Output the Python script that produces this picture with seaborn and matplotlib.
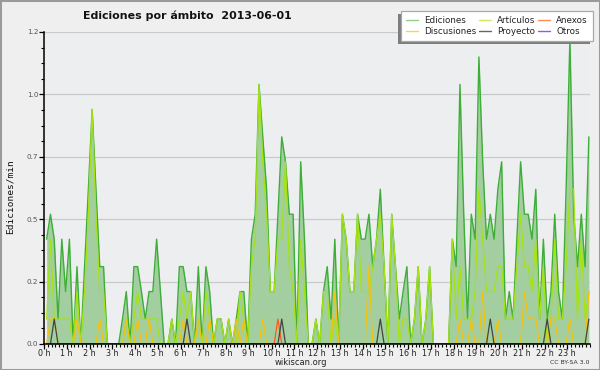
import numpy as np
import pandas as pd
import matplotlib
matplotlib.use("Agg")
import matplotlib.pyplot as plt
import seaborn as sns
from matplotlib.lines import Line2D
from matplotlib.patches import Rectangle
from matplotlib.transforms import IdentityTransform
from matplotlib.ticker import FixedLocator, MultipleLocator

# ---------------- data (edits per minute, one value per 10-minute slot) -------------
title = "Ediciones por ámbito  2013-06-01"
hour_labels = [f"{h} h" for h in range(24)]
y_ticks = [0.0, 0.25, 0.5, 0.75, 1.0, 1.25]
y_tick_labels = ["0.0", "0.2", "0.5", "0.7", "1.0", "1.2"]

ediciones = [
    0.42, 0.52, 0.42, 0.10, 0.42, 0.21, 0.42, 0.00, 0.31, 0.00,
    0.31, 0.62, 0.94, 0.62, 0.31, 0.31, 0.00, 0.00, 0.00, 0.00,
    0.10, 0.21, 0.00, 0.31, 0.31, 0.21, 0.10, 0.21, 0.21, 0.42,
    0.21, 0.00, 0.00, 0.10, 0.00, 0.31, 0.31, 0.21, 0.21, 0.00,
    0.31, 0.00, 0.31, 0.21, 0.00, 0.10, 0.10, 0.00, 0.10, 0.00,
    0.10, 0.21, 0.21, 0.00, 0.42, 0.52, 1.04, 0.83, 0.62, 0.21,
    0.21, 0.52, 0.83, 0.73, 0.52, 0.52, 0.00, 0.73, 0.42, 0.00,
    0.00, 0.10, 0.00, 0.21, 0.31, 0.10, 0.42, 0.00, 0.52, 0.42,
    0.21, 0.21, 0.52, 0.42, 0.42, 0.52, 0.31, 0.42, 0.62, 0.31,
    0.00, 0.52, 0.31, 0.10, 0.21, 0.31, 0.00, 0.10, 0.31, 0.00,
    0.10, 0.31, 0.00, 0.00, 0.00, 0.00, 0.00, 0.42, 0.31, 1.04,
    0.52, 0.10, 0.52, 0.42, 1.15, 0.73, 0.42, 0.52, 0.42, 0.62,
    0.73, 0.10, 0.21, 0.10, 0.42, 0.73, 0.52, 0.52, 0.42, 0.62,
    0.10, 0.42, 0.10, 0.21, 0.52, 0.21, 0.10, 0.62, 1.22, 0.52,
    0.31, 0.52, 0.31, 0.83,
]

articulos = [
    0.10, 0.42, 0.10, 0.10, 0.10, 0.10, 0.10, 0.00, 0.21, 0.00,
    0.21, 0.52, 0.94, 0.52, 0.21, 0.21, 0.00, 0.00, 0.00, 0.00,
    0.00, 0.10, 0.00, 0.10, 0.21, 0.10, 0.10, 0.10, 0.10, 0.10,
    0.00, 0.00, 0.00, 0.10, 0.00, 0.10, 0.21, 0.10, 0.21, 0.00,
    0.10, 0.00, 0.21, 0.10, 0.00, 0.10, 0.10, 0.00, 0.10, 0.00,
    0.00, 0.21, 0.10, 0.00, 0.31, 0.42, 1.04, 0.73, 0.52, 0.21,
    0.21, 0.42, 0.42, 0.73, 0.31, 0.21, 0.00, 0.42, 0.21, 0.00,
    0.00, 0.10, 0.00, 0.21, 0.21, 0.00, 0.10, 0.00, 0.52, 0.42,
    0.21, 0.21, 0.52, 0.21, 0.21, 0.21, 0.31, 0.42, 0.52, 0.31,
    0.00, 0.52, 0.31, 0.00, 0.10, 0.10, 0.00, 0.10, 0.31, 0.00,
    0.10, 0.31, 0.00, 0.00, 0.00, 0.00, 0.00, 0.42, 0.10, 0.31,
    0.10, 0.10, 0.10, 0.21, 0.62, 0.42, 0.21, 0.21, 0.21, 0.31,
    0.31, 0.10, 0.10, 0.10, 0.31, 0.52, 0.31, 0.31, 0.21, 0.42,
    0.10, 0.31, 0.00, 0.10, 0.42, 0.10, 0.10, 0.31, 0.62, 0.62,
    0.10, 0.42, 0.10, 0.21,
]

discusiones = [
    0.00, 0.10, 0.10, 0.00, 0.00, 0.00, 0.00, 0.00, 0.10, 0.00,
    0.00, 0.00, 0.00, 0.00, 0.10, 0.00, 0.00, 0.00, 0.00, 0.00,
    0.00, 0.10, 0.00, 0.00, 0.10, 0.00, 0.00, 0.10, 0.00, 0.00,
    0.00, 0.00, 0.00, 0.00, 0.00, 0.00, 0.10, 0.00, 0.00, 0.00,
    0.10, 0.00, 0.00, 0.10, 0.00, 0.00, 0.00, 0.00, 0.00, 0.00,
    0.10, 0.00, 0.10, 0.00, 0.00, 0.00, 0.00, 0.10, 0.00, 0.00,
    0.00, 0.00, 0.00, 0.00, 0.00, 0.00, 0.00, 0.00, 0.00, 0.00,
    0.00, 0.00, 0.00, 0.00, 0.00, 0.00, 0.21, 0.00, 0.00, 0.00,
    0.00, 0.00, 0.00, 0.00, 0.00, 0.31, 0.00, 0.00, 0.00, 0.00,
    0.00, 0.00, 0.00, 0.00, 0.00, 0.00, 0.00, 0.00, 0.00, 0.00,
    0.00, 0.00, 0.00, 0.00, 0.00, 0.00, 0.00, 0.00, 0.00, 0.10,
    0.00, 0.00, 0.10, 0.00, 0.00, 0.21, 0.00, 0.00, 0.00, 0.10,
    0.00, 0.00, 0.00, 0.00, 0.00, 0.00, 0.21, 0.10, 0.10, 0.10,
    0.00, 0.00, 0.00, 0.10, 0.10, 0.00, 0.00, 0.00, 0.10, 0.00,
    0.00, 0.00, 0.00, 0.21,
]

proyecto = [
    0.00, 0.00, 0.10, 0.00, 0.00, 0.00, 0.00, 0.00, 0.00, 0.00,
    0.00, 0.00, 0.00, 0.00, 0.00, 0.00, 0.00, 0.00, 0.00, 0.00,
    0.00, 0.00, 0.00, 0.00, 0.00, 0.00, 0.00, 0.00, 0.00, 0.00,
    0.00, 0.00, 0.00, 0.00, 0.00, 0.00, 0.00, 0.10, 0.00, 0.00,
    0.00, 0.00, 0.00, 0.00, 0.00, 0.00, 0.00, 0.00, 0.00, 0.00,
    0.00, 0.00, 0.00, 0.00, 0.00, 0.00, 0.00, 0.00, 0.00, 0.00,
    0.00, 0.00, 0.10, 0.00, 0.00, 0.00, 0.00, 0.00, 0.00, 0.00,
    0.00, 0.00, 0.00, 0.00, 0.00, 0.00, 0.00, 0.00, 0.00, 0.00,
    0.00, 0.00, 0.00, 0.00, 0.00, 0.00, 0.00, 0.00, 0.10, 0.00,
    0.00, 0.00, 0.00, 0.00, 0.00, 0.00, 0.00, 0.00, 0.00, 0.00,
    0.00, 0.00, 0.00, 0.00, 0.00, 0.00, 0.00, 0.00, 0.00, 0.00,
    0.00, 0.00, 0.00, 0.00, 0.00, 0.00, 0.00, 0.10, 0.00, 0.00,
    0.00, 0.00, 0.00, 0.00, 0.00, 0.00, 0.00, 0.00, 0.00, 0.00,
    0.00, 0.00, 0.10, 0.00, 0.00, 0.00, 0.00, 0.00, 0.00, 0.00,
    0.00, 0.00, 0.00, 0.10,
]

anexos = [
    0.00, 0.00, 0.00, 0.00, 0.00, 0.00, 0.00, 0.00, 0.00, 0.00,
    0.00, 0.00, 0.00, 0.00, 0.00, 0.00, 0.00, 0.00, 0.00, 0.00,
    0.00, 0.00, 0.00, 0.00, 0.00, 0.00, 0.00, 0.00, 0.00, 0.00,
    0.00, 0.00, 0.00, 0.00, 0.00, 0.00, 0.00, 0.00, 0.00, 0.00,
    0.00, 0.00, 0.00, 0.00, 0.00, 0.00, 0.00, 0.00, 0.00, 0.00,
    0.00, 0.00, 0.00, 0.00, 0.00, 0.00, 0.00, 0.00, 0.00, 0.00,
    0.00, 0.10, 0.00, 0.00, 0.00, 0.00, 0.00, 0.00, 0.00, 0.00,
    0.00, 0.00, 0.00, 0.00, 0.00, 0.00, 0.00, 0.00, 0.00, 0.00,
    0.00, 0.00, 0.00, 0.00, 0.00, 0.00, 0.00, 0.00, 0.00, 0.00,
    0.00, 0.00, 0.00, 0.00, 0.00, 0.00, 0.00, 0.00, 0.00, 0.00,
    0.00, 0.00, 0.00, 0.00, 0.00, 0.00, 0.00, 0.00, 0.00, 0.00,
    0.00, 0.00, 0.00, 0.00, 0.00, 0.00, 0.00, 0.00, 0.00, 0.00,
    0.00, 0.00, 0.00, 0.00, 0.00, 0.00, 0.00, 0.00, 0.00, 0.00,
    0.00, 0.00, 0.00, 0.00, 0.00, 0.00, 0.00, 0.00, 0.00, 0.00,
    0.00, 0.00, 0.00, 0.00,
]

otros = [
    0.00, 0.00, 0.00, 0.00, 0.00, 0.00, 0.00, 0.00, 0.00, 0.00,
    0.00, 0.00, 0.00, 0.00, 0.00, 0.00, 0.00, 0.00, 0.00, 0.00,
    0.00, 0.00, 0.00, 0.00, 0.00, 0.00, 0.00, 0.00, 0.00, 0.00,
    0.00, 0.00, 0.00, 0.00, 0.00, 0.00, 0.00, 0.00, 0.00, 0.00,
    0.00, 0.00, 0.00, 0.00, 0.00, 0.00, 0.00, 0.00, 0.00, 0.00,
    0.00, 0.00, 0.00, 0.00, 0.00, 0.00, 0.00, 0.00, 0.00, 0.00,
    0.00, 0.00, 0.00, 0.00, 0.00, 0.00, 0.00, 0.00, 0.00, 0.00,
    0.00, 0.00, 0.00, 0.00, 0.00, 0.00, 0.00, 0.00, 0.00, 0.00,
    0.00, 0.00, 0.00, 0.00, 0.00, 0.00, 0.00, 0.00, 0.00, 0.00,
    0.00, 0.00, 0.00, 0.00, 0.00, 0.00, 0.00, 0.00, 0.00, 0.00,
    0.00, 0.00, 0.00, 0.00, 0.00, 0.00, 0.00, 0.00, 0.00, 0.00,
    0.00, 0.00, 0.00, 0.00, 0.00, 0.00, 0.00, 0.00, 0.00, 0.00,
    0.00, 0.00, 0.00, 0.00, 0.00, 0.00, 0.00, 0.00, 0.00, 0.00,
    0.00, 0.00, 0.00, 0.00, 0.00, 0.00, 0.00, 0.00, 0.00, 0.00,
    0.00, 0.00, 0.00, 0.00,
]

series_names = ["Ediciones", "Artículos", "Discusiones", "Anexos", "Proyecto", "Otros"]
legend_order = ["Ediciones", "Discusiones", "Artículos", "Proyecto", "Anexos", "Otros"]

# ---------------- styling ----------------
line_colors = {
    "Ediciones": "#3dae38",
    "Artículos": "#a6e312",
    "Discusiones": "#f4c20d",
    "Anexos": "#ff5a1a",
    "Proyecto": "#444444",
    "Otros": "#9a45ee",
}
legend_colors = {
    "Ediciones": "#8fd08a",
    "Artículos": "#cdeb5a",
    "Discusiones": "#ffd24a",
    "Anexos": "#ff8a5c",
    "Proyecto": "#666666",
    "Otros": "#9a55ee",
}
line_widths = {"Ediciones": 1.0, "Artículos": 0.9, "Discusiones": 0.9,
               "Anexos": 0.9, "Proyecto": 0.9, "Otros": 0.9}
fill_color = "#a2cea0"

sns.set_theme(style="white")
plt.rcParams["font.family"] = ["DejaVu Sans"]

# 10-minute slots, expressed in hours
n = len(ediciones)
hours = (np.arange(n) + 0.7) / 6.0

df = pd.DataFrame({
    "hora": hours,
    "Ediciones": ediciones,
    "Artículos": articulos,
    "Discusiones": discusiones,
    "Anexos": anexos,
    "Proyecto": proyecto,
    "Otros": otros,
})
long_df = df.melt(id_vars="hora", var_name="serie", value_name="valor")

W, H = 600, 370
fig = plt.figure(figsize=(W / 100, H / 100), dpi=100)
fig.patch.set_facecolor("#efefef")
ax = fig.add_axes([44 / W, 1 - 344 / H, 546 / W, 312 / H])
ax.set_facecolor("#edeef0")

# grid
for yv in y_ticks[1:]:
    ax.axhline(yv, color="#cacaca", lw=0.9, zorder=0.5)

# filled area for total edits
ax.fill_between(df["hora"], 0, df["Ediciones"], color=fill_color, lw=0, zorder=1)

for i, name in enumerate(series_names):
    sub = long_df[long_df["serie"] == name]
    sns.lineplot(data=sub, x="hora", y="valor", color=line_colors[name],
                 lw=line_widths[name], estimator=None, sort=False,
                 legend=False, ax=ax, zorder=2 + i)

ax.set_xlim(0, 24)
ax.set_ylim(0, 1.25)
ax.set_xlabel("")
ax.set_ylabel("")

for s in ["top", "right"]:
    ax.spines[s].set_visible(False)
for s in ["left", "bottom"]:
    ax.spines[s].set_color("black")
    ax.spines[s].set_linewidth(1.1)
    ax.spines[s].set_zorder(10)

ax.xaxis.set_major_locator(FixedLocator(list(range(24))))
ax.set_xticklabels(hour_labels)
ax.xaxis.set_minor_locator(MultipleLocator(1 / 6))
ax.yaxis.set_major_locator(FixedLocator(y_ticks))
ax.set_yticklabels(y_tick_labels)
ax.yaxis.set_minor_locator(MultipleLocator(0.0625))

ax.tick_params(axis="x", which="major", direction="out", length=3.5, width=0.9,
               color="black", labelsize=5.8, pad=0.3, labelcolor="#222222",
               bottom=True)
ax.tick_params(axis="x", which="minor", direction="out", length=2.5, width=0.8,
               color="black", bottom=True)
ax.tick_params(axis="y", which="major", direction="out", length=3.5, width=0.9,
               color="black", labelsize=5.2, pad=0.5, labelcolor="#555555",
               left=True)
ax.tick_params(axis="y", which="minor", direction="out", length=2.5, width=0.8,
               color="black", left=True)

# texts
fig.text(187 / W, 1 - 16 / H, title, ha="center", va="center",
         fontsize=7.9, fontweight="bold", color="#111111")
fig.text(10 / W, 1 - 197 / H, "Ediciones/min", rotation=90, ha="center",
         va="center", fontsize=6.8, family="DejaVu Sans Mono", color="#111111")
fig.text(301 / W, 1 - 362.5 / H, "wikiscan.org", ha="center", va="center",
         fontsize=6.0, color="#222222")
fig.text(590 / W, 1 - 362.5 / H, "CC BY-SA 3.0", ha="right", va="center",
         fontsize=4.4, color="#333333")

# legend
handles = [Line2D([], [], color=legend_colors[k], lw=1.0) for k in legend_order]
leg = fig.legend(handles, legend_order, ncol=3, loc="upper right",
                 bbox_to_anchor=(593 / W, 1 - 11 / H), fontsize=6.3,
                 frameon=True, fancybox=False, edgecolor="#a8a8a8",
                 facecolor="white", framealpha=1, handlelength=1.3,
                 handletextpad=0.75, columnspacing=0.3, labelspacing=0.22,
                 borderpad=0.6, borderaxespad=0)
leg.get_frame().set_linewidth(0.9)
leg.set_zorder(20)
for t in leg.get_texts():
    t.set_color("#222222")

fig.canvas.draw()
bb = leg.get_window_extent()
shadow = Rectangle((bb.x0 - 3, bb.y0 - 3), bb.width, bb.height,
                   transform=IdentityTransform(), facecolor="#7d7d7d",
                   edgecolor="none", zorder=19)
fig.add_artist(shadow)

# figure border
fig.add_artist(Rectangle((0, 0), 1, 1, transform=fig.transFigure, fill=False,
                         edgecolor="#9a9a9a", lw=2.2, zorder=30))

fig.savefig("out.png", dpi=100, facecolor=fig.get_facecolor())
